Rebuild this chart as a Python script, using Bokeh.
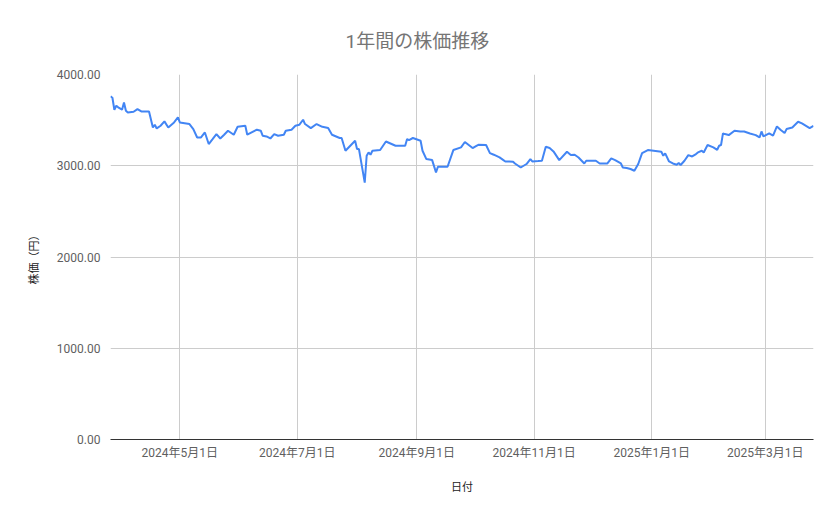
import pandas as pd
from bokeh.plotting import figure
from bokeh.models import ColumnDataSource, FixedTicker, NumeralTickFormatter, Range1d
from bokeh.embed import file_html
from bokeh.resources import INLINE

title_text = "1年間の株価推移"
x_title = "日付"
y_title = "株価（円）"

dates = [
    "2024-03-26", "2024-03-27", "2024-03-28", "2024-03-29", "2024-03-30", "2024-04-01",
    "2024-04-02", "2024-04-03", "2024-04-04", "2024-04-07", "2024-04-09", "2024-04-11",
    "2024-04-15", "2024-04-17", "2024-04-18", "2024-04-19", "2024-04-21", "2024-04-23",
    "2024-04-25", "2024-04-28", "2024-04-30", "2024-05-01", "2024-05-06", "2024-05-08",
    "2024-05-10", "2024-05-12", "2024-05-14", "2024-05-16", "2024-05-18", "2024-05-20",
    "2024-05-22", "2024-05-24", "2024-05-26", "2024-05-29", "2024-05-31", "2024-06-04",
    "2024-06-05", "2024-06-10", "2024-06-12", "2024-06-13", "2024-06-15", "2024-06-17",
    "2024-06-19", "2024-06-21", "2024-06-24", "2024-06-25", "2024-06-28", "2024-06-30",
    "2024-07-02", "2024-07-04", "2024-07-05", "2024-07-08", "2024-07-11", "2024-07-14",
    "2024-07-17", "2024-07-19", "2024-07-23", "2024-07-24", "2024-07-26", "2024-07-31",
    "2024-08-01", "2024-08-02", "2024-08-05", "2024-08-06", "2024-08-07", "2024-08-08",
    "2024-08-09", "2024-08-13", "2024-08-16", "2024-08-21", "2024-08-26", "2024-08-27",
    "2024-08-28", "2024-08-30", "2024-09-03", "2024-09-04", "2024-09-06", "2024-09-09",
    "2024-09-11", "2024-09-12", "2024-09-17", "2024-09-20", "2024-09-24", "2024-09-26",
    "2024-09-28", "2024-09-30", "2024-10-02", "2024-10-03", "2024-10-07", "2024-10-09",
    "2024-10-11", "2024-10-14", "2024-10-16", "2024-10-17", "2024-10-19", "2024-10-21",
    "2024-10-22", "2024-10-25", "2024-10-28", "2024-10-30", "2024-10-31", "2024-11-03",
    "2024-11-05", "2024-11-07", "2024-11-09", "2024-11-11", "2024-11-14", "2024-11-18",
    "2024-11-20", "2024-11-22", "2024-11-24", "2024-11-27", "2024-11-28", "2024-12-03",
    "2024-12-05", "2024-12-09", "2024-12-11", "2024-12-13", "2024-12-16", "2024-12-17",
    "2024-12-19", "2024-12-21", "2024-12-23", "2024-12-25", "2024-12-27", "2024-12-30",
    "2025-01-02", "2025-01-06", "2025-01-07", "2025-01-08", "2025-01-10", "2025-01-12",
    "2025-01-14", "2025-01-15", "2025-01-16", "2025-01-18", "2025-01-20", "2025-01-22",
    "2025-01-24", "2025-01-25", "2025-01-27", "2025-01-28", "2025-01-30", "2025-02-02",
    "2025-02-04", "2025-02-05", "2025-02-06", "2025-02-07", "2025-02-08", "2025-02-10",
    "2025-02-13", "2025-02-16", "2025-02-18", "2025-02-21", "2025-02-24", "2025-02-26",
    "2025-02-27", "2025-02-28", "2025-03-03", "2025-03-05", "2025-03-07", "2025-03-09",
    "2025-03-11", "2025-03-12", "2025-03-15", "2025-03-18", "2025-03-20", "2025-03-24",
    "2025-03-26",
]

prices = [
    3760, 3745, 3614, 3658, 3640, 3614,
    3694, 3603, 3584, 3592, 3621, 3595,
    3595, 3420, 3449, 3409, 3438, 3486,
    3420, 3475, 3530, 3475, 3457, 3402,
    3310, 3310, 3365, 3238, 3292, 3347,
    3299, 3340, 3384, 3340, 3427, 3438,
    3340, 3395, 3384, 3329, 3321, 3299,
    3347, 3329, 3340, 3384, 3395, 3438,
    3449, 3504, 3457, 3413, 3457, 3427,
    3413, 3340, 3304, 3304, 3164, 3274,
    3183, 3183, 2815, 3110, 3146, 3121,
    3164, 3172, 3266, 3219, 3219, 3293,
    3282, 3304, 3274, 3164, 3073, 3062,
    2927, 2989, 2989, 3172, 3201, 3260,
    3227, 3194, 3219, 3230, 3227, 3139,
    3121, 3091, 3062, 3047, 3047, 3044,
    3025, 2981, 3019, 3073, 3047, 3051,
    3055, 3208, 3194, 3157, 3062, 3153,
    3117, 3121, 3091, 3025, 3055, 3055,
    3025, 3025, 3080, 3062, 3025, 2981,
    2975, 2964, 2945, 3019, 3139, 3172,
    3164, 3153, 3110, 3135, 3047, 3025,
    3011, 3030, 3008, 3055, 3117, 3102,
    3128, 3146, 3164, 3146, 3227, 3201,
    3175, 3219, 3227, 3354, 3347, 3336,
    3384, 3376, 3376, 3354, 3336, 3310,
    3376, 3321, 3354, 3329, 3431, 3391,
    3358, 3402, 3420, 3482, 3464, 3413,
    3438,
]

x_tick_dates = ["2024-05-01", "2024-07-01", "2024-09-01", "2024-11-01", "2025-01-01", "2025-03-01"]
x_tick_labels = ["2024年5月1日", "2024年7月1日", "2024年9月1日", "2024年11月1日", "2025年1月1日", "2025年3月1日"]
y_ticks = [0, 1000, 2000, 3000, 4000]

FONT = "Roboto, 'Noto Sans CJK JP', sans-serif"

dt = pd.to_datetime(dates)
source = ColumnDataSource(data=dict(date=dt, price=prices))

def ms(d):
    return pd.Timestamp(d).value / 1e6

tick_ms = [ms(d) for d in x_tick_dates]

p = figure(
    width=831, height=511,
    x_axis_type="datetime",
    x_range=Range1d(ms(dates[0]), ms(dates[-1])),
    y_range=Range1d(0, 4000),
    output_backend="svg",
    toolbar_location=None,
    min_border_left=110, min_border_right=18, min_border_top=74, min_border_bottom=72,
)

p.title.text = title_text
p.title.align = "left"
p.title.offset = 235
p.title.standoff = 43
p.title.text_font = FONT
p.title.text_font_size = "19px"
p.title.text_font_style = "normal"
p.title.text_color = "#757575"

p.outline_line_color = None
p.background_fill_color = "white"

p.line(x="date", y="price", source=source, line_color="#4285F4", line_width=2)

# x axis
xa = p.xaxis[0]
xa.ticker = FixedTicker(ticks=tick_ms)
xa.major_label_overrides = {t: lab for t, lab in zip(tick_ms, x_tick_labels)}
xa.axis_label = x_title
xa.axis_label_text_font = FONT
xa.axis_label_text_font_size = "11px"
xa.axis_label_text_font_style = "normal"
xa.axis_label_text_color = "#222222"
xa.axis_label_standoff = 18
xa.major_label_text_font = FONT
xa.major_label_text_font_size = "12px"
xa.major_label_text_color = "#5f5f5f"
xa.major_label_standoff = 0
xa.major_tick_line_color = None
xa.minor_tick_line_color = None
xa.axis_line_color = "#333333"
xa.axis_line_width = 1

# y axis
ya = p.yaxis[0]
ya.ticker = FixedTicker(ticks=y_ticks)
ya.formatter = NumeralTickFormatter(format="0.00")
ya.axis_label = y_title
ya.axis_label_text_font = FONT
ya.axis_label_text_font_size = "11px"
ya.axis_label_text_font_style = "normal"
ya.axis_label_text_color = "#222222"
ya.axis_label_standoff = 13
ya.major_label_text_font = FONT
ya.major_label_text_font_size = "12px"
ya.major_label_text_color = "#5f5f5f"
ya.major_label_standoff = 4
ya.major_tick_line_color = None
ya.minor_tick_line_color = None
ya.axis_line_color = None

p.xgrid.grid_line_color = "#cccccc"
p.ygrid.grid_line_color = "#cccccc"
p.xgrid.grid_line_width = 1
p.ygrid.grid_line_width = 1

open("out.html", "w").write(file_html(p, INLINE))
